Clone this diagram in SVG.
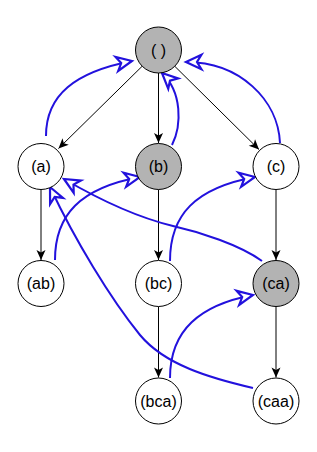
<svg xmlns="http://www.w3.org/2000/svg" width="317" height="452" viewBox="0 0 317 452">
<style>
.n{stroke:#000;stroke-width:1}
.w{fill:#fff}
.g{fill:#b3b3b3}
text{font-family:"Liberation Sans",Arial,sans-serif;font-size:16px;text-anchor:middle;dominant-baseline:central;fill:#000}
.e{stroke:#000;stroke-width:1;fill:none;marker-end:url(#ab)}
.s{stroke:#2211dd;stroke-width:2;fill:none;marker-end:url(#ob)}
</style>
<defs>
<marker id="ab" markerUnits="userSpaceOnUse" markerWidth="14" markerHeight="12" viewBox="-12 -6 13 12" refX="0" refY="0" orient="auto"><path d="M0,0 L-10,-4.5 L-7.5,0 L-10,4.5 Z" fill="#000"/></marker>
<marker id="ob" markerUnits="userSpaceOnUse" markerWidth="22" markerHeight="20" viewBox="-17 -9 20 18" refX="0" refY="0" orient="auto"><path d="M0,0 L-14,-6.5 L-10,0 L-14,6.5 Z" fill="#fff" stroke="#2211dd" stroke-width="2"/></marker>
</defs>
<g id="edges">
<path class="e" d="M142.4,66 L58.5,148.5"/>
<path class="e" d="M158.5,73 L158.5,143"/>
<path class="e" d="M174.7,66.2 L259,149.5"/>
<path class="e" d="M41,189.5 L41,260"/>
<path class="e" d="M158.5,189.5 L158.5,260"/>
<path class="e" d="M276,189.5 L276,260"/>
<path class="e" d="M158.5,306.5 L158.5,377.5"/>
<path class="e" d="M276,306.5 L276,377.5"/>
</g>
<g id="links">
<path class="s" d="M46,136 C46,95 75,72 132,61"/>
<path class="s" d="M172,145 C182,125 182,92 162,73"/>
<path class="s" d="M280,143 C278,100 240,62 186,62"/>
<path class="s" d="M55,260 C55,215 80,188 140,177"/>
<path class="s" d="M170,261 C170,215 195,188 255,177"/>
<path class="s" d="M262,261 C240,245 200,232 173,226 C140,218 100,200 64,179"/>
<path class="s" d="M253,388 C210,378 165,365 140,335 C110,298 75,240 50,187"/>
<path class="s" d="M170,378 C170,330 200,305 253,295"/>
</g>
<g id="n_root"><circle class="n g" cx="158.5" cy="50" r="23"/><text x="158.5" y="50">( )</text></g>
<g id="n_a"><circle class="n w" cx="41" cy="166.5" r="23"/><text x="41" y="166.5">(a)</text></g>
<g id="n_b"><circle class="n g" cx="158.5" cy="166.5" r="23"/><text x="158.5" y="166.5">(b)</text></g>
<g id="n_c"><circle class="n w" cx="276" cy="166.5" r="23"/><text x="276" y="166.5">(c)</text></g>
<g id="n_ab"><circle class="n w" cx="41" cy="283.5" r="23"/><text x="41" y="283.5">(ab)</text></g>
<g id="n_bc"><circle class="n w" cx="158.5" cy="283.5" r="23"/><text x="158.5" y="283.5">(bc)</text></g>
<g id="n_ca"><circle class="n g" cx="276" cy="283.5" r="23"/><text x="276" y="283.5">(ca)</text></g>
<g id="n_bca"><circle class="n w" cx="158.5" cy="401" r="23"/><text x="158.5" y="401">(bca)</text></g>
<g id="n_caa"><circle class="n w" cx="276" cy="401" r="23"/><text x="276" y="401">(caa)</text></g>
</svg>
